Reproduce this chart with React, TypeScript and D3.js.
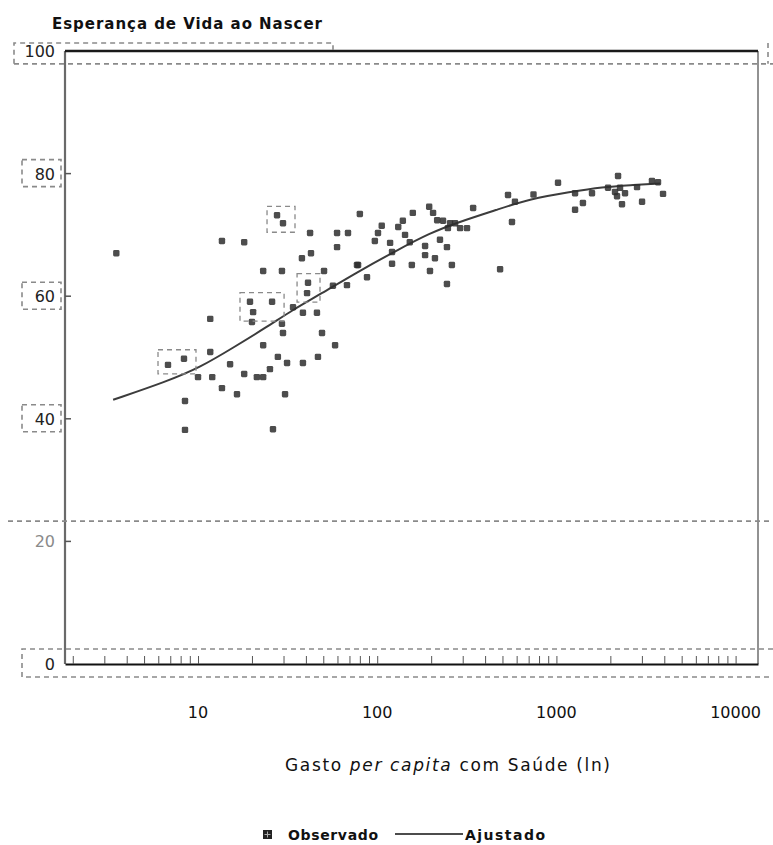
import * as d3 from "d3";
import React, { useRef, useEffect } from "react";

const width = 773;
const height = 845;

// frame of the plot, in page pixels
const frame = { left: 65, top: 51, right: 758, bottom: 664 };

// axis values
const xTickValues = [10, 100, 1000, 10000];
const yTickValues = [0, 20, 40, 60, 80, 100];

// observed countries: spending per capita (x) and life expectancy (y)
const obsSpend = [
  3.5, 13.6, 18.1, 27.6, 29.8, 42.2, 59.7, 68.7, 59.7, 80,
  38.0, 42.7, 23.1, 29.4, 50.5, 77.1, 41.1, 40.6, 56.6, 67.8,
  19.5, 20.3, 25.9, 33.9, 38.5, 46.1, 11.7, 20.0, 29.4, 29.8,
  49.2, 23.1, 58.2, 11.7, 6.8, 8.35, 15.1, 27.9, 31.4, 38.5,
  46.7, 25.2, 10, 12.0, 18.1, 21.3, 23.1, 13.6, 16.5, 30.6,
  8.46, 8.46, 26.2, 97, 101, 106, 131, 139, 143, 158,
  118, 152, 195, 205, 216, 233, 255, 272, 248, 290,
  317, 343, 185, 224, 245, 185, 210, 261, 197, 245,
  156, 121, 121, 78.2, 87.7, 485, 565, 537, 587, 745,
  1021, 1271, 1271, 1406, 1580, 2208, 1941, 2124, 2179, 2265,
  2415, 2323, 3006, 2818, 3414, 3690, 3936,
];
const obsLife = [
  67.0, 69.0, 68.8, 73.2, 71.9, 70.3, 70.3, 70.3, 68.0, 73.4,
  66.2, 67.0, 64.1, 64.1, 64.1, 65.1, 62.2, 60.5, 61.7, 61.8,
  59.1, 57.4, 59.1, 58.2, 57.3, 57.3, 56.3, 55.8, 55.5, 54.0,
  54.0, 52.0, 52.0, 50.9, 48.8, 49.8, 48.9, 50.1, 49.1, 49.1,
  50.1, 48.1, 46.8, 46.8, 47.3, 46.8, 46.8, 45.0, 44.0, 44.0,
  42.9, 38.2, 38.3, 69.0, 70.3, 71.5, 71.3, 72.3, 70.0, 73.6,
  68.7, 68.8, 74.6, 73.6, 72.4, 72.3, 71.9, 71.9, 71.1, 71.1,
  71.1, 74.4, 68.2, 69.2, 68.0, 66.7, 66.2, 65.1, 64.1, 62.0,
  65.1, 65.3, 67.2, 65.1, 63.1, 64.4, 72.1, 76.5, 75.4, 76.6,
  78.5, 76.8, 74.1, 75.2, 76.8, 79.6, 77.7, 77.0, 76.3, 77.7,
  76.8, 75.0, 75.4, 77.8, 78.8, 78.6, 76.7,
];

// points that carry a dashed box in the scan (indices into the arrays above)
const boxedGroups = [[3, 4], [16, 17], [20, 21, 22], [34, 35]];

// fitted curve
const fitSpend = [3.36, 6.7, 10.3, 15.7, 24.3, 33.9, 48, 77, 129, 197, 279, 466, 713, 1191, 1820, 2576, 3787];
const fitLife = [43.1, 46.1, 48.4, 51.6, 55.0, 57.8, 60.3, 63.9, 67.5, 70.3, 72.0, 74.1, 75.9, 77.0, 77.8, 78.1, 78.4];

const font = "'DejaVu Sans', sans-serif";
const dash = "#8a8a8a";

const App = () => {
  const ref = useRef<SVGSVGElement>(null);

  useEffect(() => {
    const svg = d3.select(ref.current);
    svg.selectAll("*").remove();

    const x = d3.scaleLog().domain([1.81, 13335]).range([frame.left, frame.right]);
    const y = d3.scaleLinear().domain([0, 100]).range([frame.bottom, frame.top]);

    const dashed = (g: any) =>
      g.attr("fill", "none").attr("stroke", dash).attr("stroke-width", 1.6).attr("stroke-dasharray", "5,4");

    // scan artifacts: dashed boxes and lines
    const art = svg.append("g");
    art.append("path").call(dashed)
      .attr("d", `M14,${y(97.9)} V43 H333 V50 M14,${y(97.9)} H773 M768,43 V${y(97.9)}`);
    [80, 60, 40].forEach((t) => {
      art.append("rect").call(dashed)
        .attr("x", 22).attr("y", y(t) - 14).attr("width", 39).attr("height", 27);
    });
    art.append("line").call(dashed).attr("x1", 8).attr("x2", 773).attr("y1", y(23.3)).attr("y2", y(23.3));
    art.append("path").call(dashed)
      .attr("d", `M773,${y(0) - 15} H22 V${y(0) + 13} H773`);

    // frame
    svg.append("line").attr("x1", frame.left).attr("x2", frame.left)
      .attr("y1", frame.top).attr("y2", frame.bottom)
      .attr("stroke", "#6a6a6a").attr("stroke-width", 2.2);
    svg.append("line").attr("x1", frame.right).attr("x2", frame.right)
      .attr("y1", frame.top).attr("y2", frame.bottom)
      .attr("stroke", "#777").attr("stroke-width", 1.6);
    svg.append("line").attr("x1", frame.left).attr("x2", frame.right)
      .attr("y1", frame.top).attr("y2", frame.top)
      .attr("stroke", "#1a1a1a").attr("stroke-width", 2.6);

    // x axis with log minor ticks
    const xAxis = d3.axisBottom(x)
      .tickValues(x.ticks().filter((v) => v >= 2))
      .tickSizeInner(-8).tickSizeOuter(0).tickFormat(() => "");
    const gx = svg.append("g").attr("transform", `translate(0,${frame.bottom})`).call(xAxis);
    gx.select(".domain").attr("stroke", "#111").attr("stroke-width", 2);
    gx.selectAll(".tick line").attr("stroke", "#555").attr("stroke-width", 1);

    svg.append("g").selectAll("text").data(xTickValues).join("text")
      .attr("x", (d) => x(d)).attr("y", 718)
      .attr("text-anchor", "middle")
      .style("font", `16px ${font}`).attr("fill", "#111")
      .text((d) => String(d));

    // y axis ticks (inside) and labels
    svg.append("g").selectAll("line").data(yTickValues.filter((v) => v > 0 && v < 100)).join("line")
      .attr("x1", frame.left).attr("x2", frame.left + 6)
      .attr("y1", (d) => y(d)).attr("y2", (d) => y(d))
      .attr("stroke", "#555").attr("stroke-width", 1.5);
    svg.append("g").selectAll("text").data(yTickValues).join("text")
      .attr("x", 55).attr("y", (d) => y(d) + 6)
      .attr("text-anchor", "end")
      .style("font", `16px ${font}`)
      .attr("fill", (d) => (d === 20 ? "#8a8a8a" : "#222"))
      .text((d) => String(d));

    // fitted curve
    const fit = d3.zip(fitSpend, fitLife);
    svg.append("path").datum(fit)
      .attr("fill", "none").attr("stroke", "#3c3c3c").attr("stroke-width", 2)
      .attr("d", d3.line<number[]>().x((d) => x(d[0])).y((d) => y(d[1])).curve(d3.curveBasis));

    // observed points
    const obs = d3.zip(obsSpend, obsLife);
    svg.append("g").selectAll("rect").data(obs).join("rect")
      .attr("x", (d) => x(d[0]) - 3.2).attr("y", (d) => y(d[1]) - 3.2)
      .attr("width", 6.4).attr("height", 6.4).attr("rx", 1.4)
      .attr("fill", "#2e2e2e").attr("opacity", 0.85);

    // dashed boxes around some points
    boxedGroups.forEach((grp) => {
      const xs = grp.map((i) => x(obsSpend[i]));
      const ys = grp.map((i) => y(obsLife[i]));
      const x0 = d3.min(xs)! - 10, x1 = d3.max(xs)! + 12;
      const y0 = d3.min(ys)! - 9, y1 = d3.max(ys)! + 9;
      art.append("rect").call(dashed).attr("stroke-width", 1.3)
        .attr("x", x0).attr("y", y0).attr("width", x1 - x0).attr("height", y1 - y0);
    });
    art.raise();

    // titles
    svg.append("text").attr("x", 52).attr("y", 29)
      .attr("textLength", 270).attr("lengthAdjust", "spacing")
      .style("font", `bold 15px ${font}`).attr("fill", "#111")
      .text("Esperança de Vida ao Nascer");

    const xt = svg.append("text").attr("x", 285).attr("y", 771)
      .attr("textLength", 325).attr("lengthAdjust", "spacing")
      .style("font", `17px ${font}`).attr("fill", "#111");
    xt.append("tspan").text("Gasto ");
    xt.append("tspan").style("font-style", "italic").text("per capita");
    xt.append("tspan").text(" com Saúde (ln)");

    // legend
    const lg = svg.append("g");
    lg.append("rect").attr("x", 263).attr("y", 830).attr("width", 9).attr("height", 9).attr("fill", "#222");
    lg.append("path").attr("d", "M264.5,834.5 H270.5 M267.5,831.5 V837.5")
      .attr("stroke", "#aaa").attr("stroke-width", 1);
    lg.append("text").attr("x", 288).attr("y", 840)
      .attr("textLength", 90).attr("lengthAdjust", "spacing")
      .style("font", `bold 14px ${font}`).attr("fill", "#111").text("Observado");
    lg.append("line").attr("x1", 395).attr("x2", 463).attr("y1", 834).attr("y2", 834)
      .attr("stroke", "#111").attr("stroke-width", 1.6);
    lg.append("text").attr("x", 465).attr("y", 840)
      .attr("textLength", 80).attr("lengthAdjust", "spacing")
      .style("font", `bold 14px ${font}`).attr("fill", "#111").text("Ajustado");
  }, []);

  return (
    <svg
      ref={ref}
      width={width}
      height={height}
      style={{ position: "absolute", left: 0, top: 0, background: "#fff" }}
    />
  );
};

export default App;
